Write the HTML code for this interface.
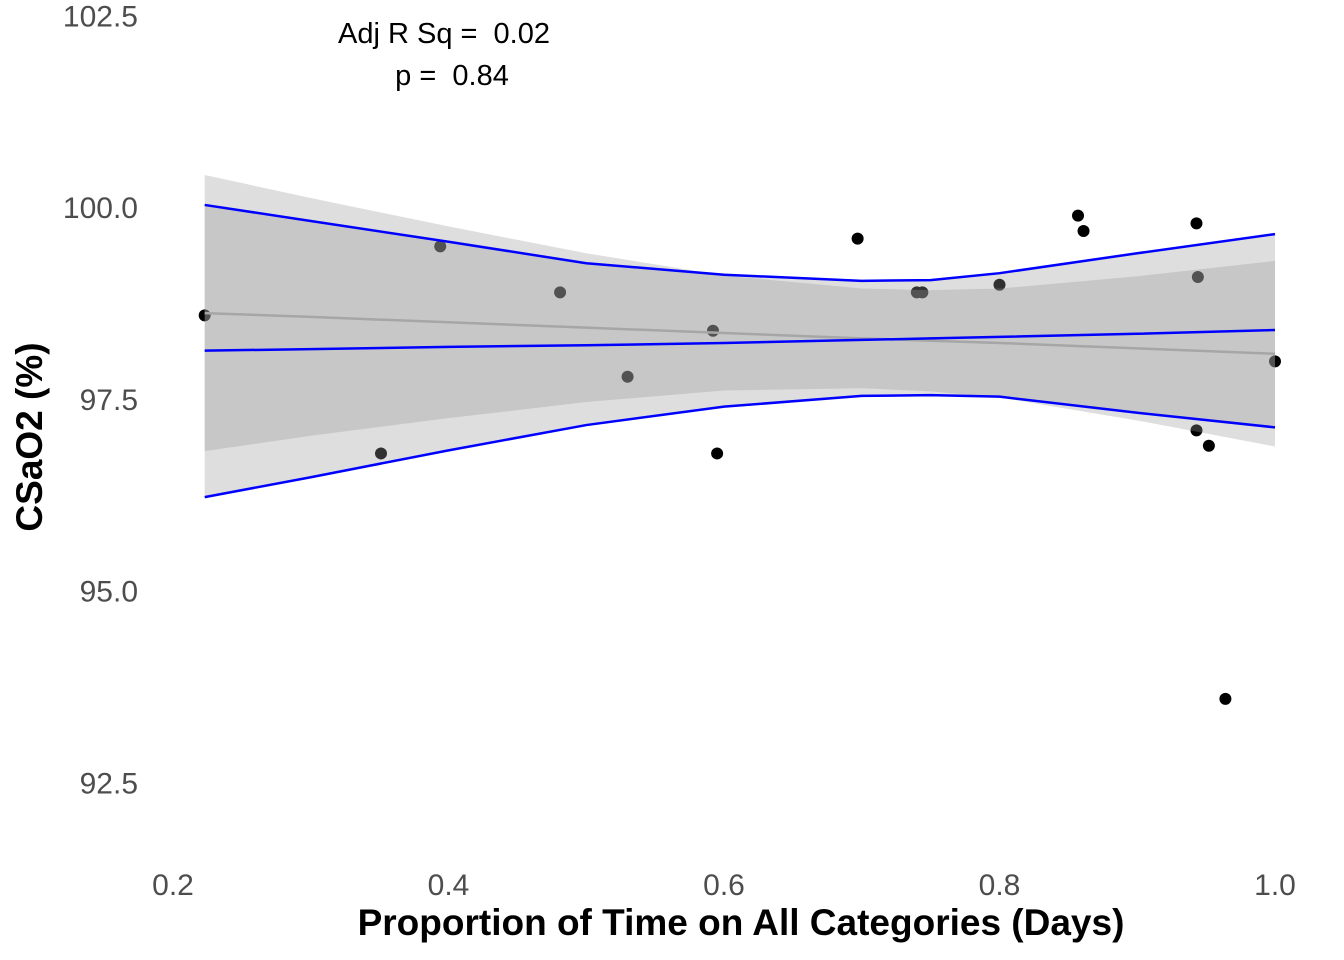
<!DOCTYPE html>
<html><head><meta charset="utf-8">
<style>
html,body{margin:0;padding:0;background:#fff;}
svg{display:block;font-family:"Liberation Sans",sans-serif;}
.pre{white-space:pre;}
</style></head>
<body>
<svg id="chart" width="1344" height="960" xmlns="http://www.w3.org/2000/svg">
<g id="points"></g>
<g id="ribbons"></g>
<g id="lines"></g>
<g id="xticks"></g>
<g id="yticks"></g>
<text x="741" y="935" text-anchor="middle" font-size="37" font-weight="bold" fill="#000">Proportion of Time on All Categories (Days)</text>
<text transform="translate(42,437) rotate(-90)" text-anchor="middle" font-size="37" font-weight="bold" fill="#000">CSaO2 (%)</text>
<text class="pre" x="444" y="43" text-anchor="middle" font-size="29" fill="#000">Adj R Sq =  0.02</text>
<text class="pre" x="452" y="85" text-anchor="middle" font-size="29" fill="#000">p =  0.84</text>
</svg>
<script>
const xVals=[0.223,0.351,0.394,0.481,0.530,0.592,0.595,0.697,0.740,0.744,0.800,0.857,0.861,0.943,0.944,0.943,0.952,0.964,1.0];
const yVals=[98.6,96.8,99.5,98.9,97.8,98.4,96.8,99.6,98.9,98.9,99.0,99.9,99.7,99.8,99.1,97.1,96.9,93.6,98.0];
const bandX=[0.223,0.3,0.4,0.5,0.6,0.7,0.75,0.8,0.9,1.0];
const blueUpper=[100.04,99.83,99.56,99.28,99.13,99.05,99.06,99.15,99.41,99.66];
const blueMid=[98.14,98.16,98.19,98.21,98.24,98.28,98.30,98.32,98.36,98.41];
const blueLower=[96.23,96.49,96.84,97.17,97.41,97.55,97.56,97.54,97.33,97.14];
const grayFit=[98.63,98.58,98.51,98.44,98.37,98.30,98.27,98.24,98.17,98.10];
const grayUpper=[100.43,100.13,99.76,99.41,99.12,98.95,98.93,98.95,99.11,99.31];
const grayLower=[96.83,97.03,97.26,97.47,97.62,97.65,97.61,97.53,97.23,96.89];
const xTicks=[0.2,0.4,0.6,0.8,1.0];
const xTickLabels=["0.2","0.4","0.6","0.8","1.0"];
const yTicks=[92.5,95,97.5,100,102.5];
const yTickLabels=["92.5","95.0","97.5","100.0","102.5"];

const NS="http://www.w3.org/2000/svg";
const sx=v=>173+(v-0.2)*1377.5;
const sy=v=>208-(v-100)*76.7;
function mk(tag,attrs,parent){const e=document.createElementNS(NS,tag);for(const k in attrs)e.setAttribute(k,attrs[k]);parent.appendChild(e);return e;}

const pg=document.getElementById('points');
xVals.forEach((x,i)=>{
  const c=mk('circle',{cx:sx(x),cy:sy(yVals[i]),r:6,fill:'#000'},pg);
  
  
});

function bandPath(up,lo){
  let d='';
  bandX.forEach((x,i)=>{d+=(i?'L':'M')+sx(x)+','+sy(up[i]);});
  for(let i=bandX.length-1;i>=0;i--)d+='L'+sx(bandX[i])+','+sy(lo[i]);
  return d+'Z';
}
function linePath(arr){let d='';bandX.forEach((x,i)=>{d+=(i?'L':'M')+sx(x)+','+sy(arr[i]);});return d;}

const rg=document.getElementById('ribbons');
const r1=mk('path',{d:bandPath(grayUpper,grayLower),fill:'#999',opacity:0.32},rg);


const r2=mk('path',{d:bandPath(blueUpper,blueLower),fill:'#999',opacity:0.32},rg);



const lg=document.getElementById('lines');
const gl=mk('path',{d:linePath(grayFit),fill:'none',stroke:'#a6a6a6','stroke-width':2.5},lg);


[[blueUpper,'blue-upper-line'],[blueMid,'blue-mid-line'],[blueLower,'blue-lower-line']].forEach(([a,n])=>{
  const p=mk('path',{d:linePath(a),fill:'none',stroke:'#0000ff','stroke-width':2.5},lg);
  
  
});

const xg=document.getElementById('xticks');
xTicks.forEach((v,i)=>{
  const t=mk('text',{x:sx(v),y:895,'text-anchor':'middle','font-size':30,fill:'#4d4d4d'},xg);
  t.textContent=xTickLabels[i];
  
  
});
const yg=document.getElementById('yticks');
yTicks.forEach((v,i)=>{
  const t=mk('text',{x:138,y:sy(v)+10,'text-anchor':'end','font-size':30,fill:'#4d4d4d'},yg);
  t.textContent=yTickLabels[i];
  
  
});
</script>
</body></html>
